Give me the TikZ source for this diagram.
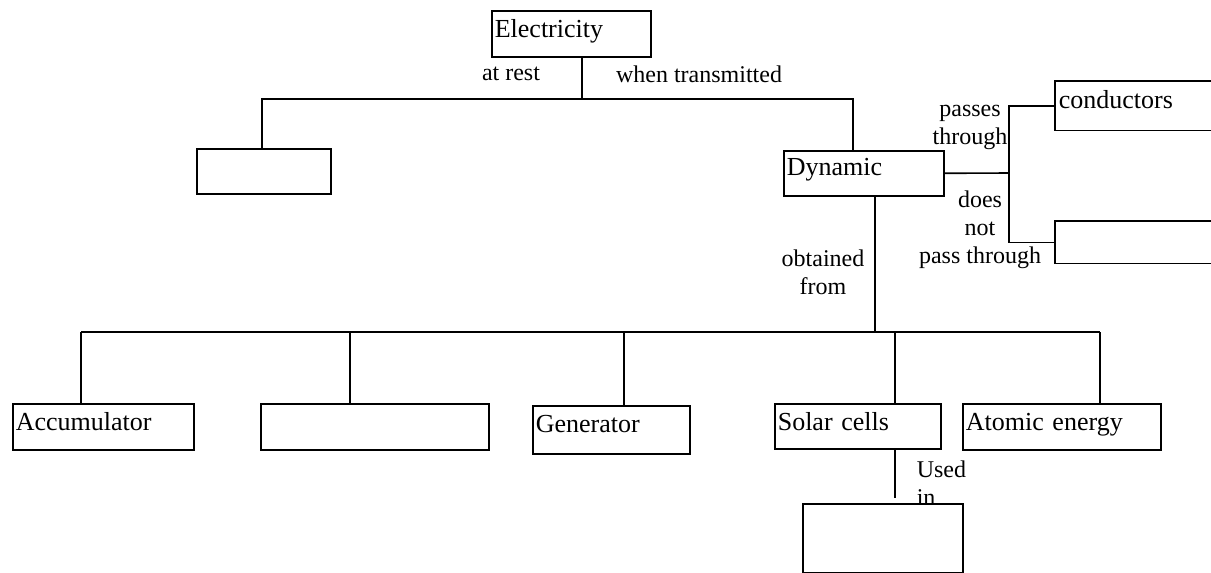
\documentclass[tikz,border=0pt]{standalone}
\usepackage{fontspec}
\setmainfont{Liberation Serif}
\begin{document}
\begin{tikzpicture}[x=1pt,y=-1pt, line width=1.6pt,
 bx/.style={draw, rectangle, anchor=north west, inner xsep=3pt, inner ysep=0pt, align=left, text height=27pt, font=\fontsize{26}{30}\selectfont},
 ob/.style={rectangle, anchor=north west, inner xsep=3pt, inner ysep=0pt, align=left, text height=27pt, font=\fontsize{26}{30}\selectfont},
 lbl/.style={font=\fontsize{24}{28}\selectfont, inner sep=0pt, align=center}]
\useasboundingbox (0,0) rectangle (1211,573);
% boxes
\node[bx, minimum width=159pt, text width=153pt, minimum height=46pt, text depth=19pt] (elec) at (491,10) {Electricity};
\node[bx, minimum width=134pt, text width=128pt, minimum height=45pt, text depth=18pt] (rest) at (196,148) {};
\node[bx, minimum width=160pt, text width=154pt, minimum height=45pt, text depth=20pt, text height=25pt] (dyn) at (783,150) {Dynamic};
\node[ob, minimum width=156pt, text width=150pt, minimum height=48pt, text depth=21pt] (cond) at (1055,81) {conductors};
\node[ob, minimum width=156pt, text width=150pt, minimum height=41pt, text depth=14pt] (nonc) at (1055,221) {};
\draw (cond.north east) -- (cond.north west) -- (cond.south west) -- (cond.south east);
\draw (nonc.north east) -- (nonc.north west) -- (nonc.south west) -- (nonc.south east);
\node[bx, minimum width=181pt, text width=175pt, minimum height=46pt, text depth=19pt] (acc) at (12,403) {Accumulator};
\node[bx, minimum width=228pt, text width=222pt, minimum height=46pt, text depth=19pt] (blank) at (260,403) {};
\node[bx, minimum width=157pt, text width=151pt, minimum height=48pt, text depth=21pt] (gen) at (532,405) {Generator};
\node[bx, minimum width=166pt, text width=160pt, minimum height=45pt, text depth=18pt] (solar) at (774,403) {Solar cells};
\node[bx, minimum width=198pt, text width=192pt, minimum height=46pt, text depth=19pt] (atom) at (962,403) {Atomic energy};
\node[bx, minimum width=160pt, text width=154pt, minimum height=69pt, text depth=42pt] (used) at (802,503) {};
% connectors
\coordinate (j1) at (582,99);
\coordinate (jl) at (262,99);
\coordinate (jr) at (853,99);
\draw (elec.south -| j1) -- (j1);
\draw (rest.north -| jl) -- (jl) -- (jr) -- (dyn.north -| jr);
\coordinate (v) at (1009,173);
\draw (dyn.east) -- (v);
\draw (cond.west) -| (v) |- (nonc.west);
\coordinate (j2) at (875,332);
\draw (dyn.south -| j2) -- (j2);
\coordinate (b1) at (81,332);
\coordinate (b2) at (350,332);
\coordinate (b3) at (624,332);
\coordinate (b4) at (895,332);
\coordinate (b5) at (1100,332);
\draw (b1) -- (b5);
\draw (b1) -- (acc.north -| b1);
\draw (b2) -- (blank.north -| b2);
\draw (b3) -- (gen.north -| b3);
\draw (b4) -- (solar.north -| b4);
\draw (b5) -- (atom.north -| b5);
\coordinate (ue) at (895,498);
\draw (solar.south -| b4) -- (ue);
% labels
\node[lbl] (l1) at (511,74) {at rest};
\node[lbl] (l2) at (699,74) {when transmitted};
\node[lbl] (l3) at (970,127) {passes\\through};
\node[lbl] (l4) at (980,230) {does\\not\\pass through};
\node[lbl] (l5) at (823,272) {obtained\\from};
\node[lbl, align=left, anchor=west] (l6) at (916,483) {Used\\in};
\end{tikzpicture}
\end{document}
